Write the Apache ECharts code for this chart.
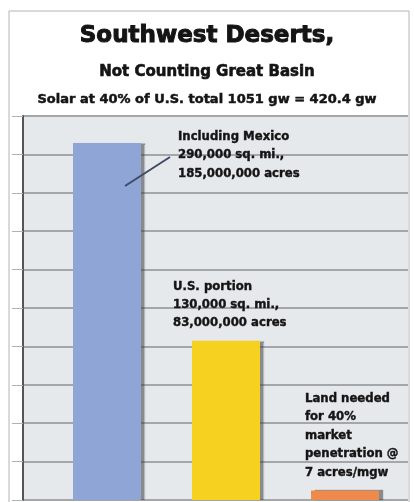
<!DOCTYPE html>
<html><head><meta charset="utf-8">
<script src="https://cdn.jsdelivr.net/npm/echarts@6/dist/echarts.min.js"></script>
<style>html,body{margin:0;padding:0;background:#fff}#c{width:414px;height:502px}</style>
</head><body><div id="c"></div>
<script>
// ---- data ----
const categories = ['Including Mexico', 'U.S. portion', 'Land needed'];
const acres = [186000000, 83000000, 5000000];
const barColors = ['#8ea5d5', '#f7d11f', '#ee8a4c'];
const yTicks = { min: 0, max: 200000000, interval: 20000000 };
const titleText = 'Southwest Deserts,';
const subText = 'Not Counting Great Basin';
const noteText = 'Solar at 40% of U.S. total 1051 gw = 420.4 gw';
const annotations = [
  'Including Mexico\n290,000 sq. mi.,\n185,000,000 acres',
  'U.S. portion\n130,000 sq. mi.,\n83,000,000 acres',
  'Land needed\nfor 40%\nmarket\npenetration @\n7 acres/mgw'
];

const chart = echarts.init(document.getElementById('c'), null, { renderer: 'canvas' });
const annFont = 'bold 13px "DejaVu Sans Condensed", "DejaVu Sans"';
const ink = '#141414';
chart.setOption({
  backgroundColor: '#ffffff',
  animation: false,
  title: [
    { text: titleText, left: 'center', top: 20, textStyle: { fontFamily: 'DejaVu Sans', fontWeight: 'bold', fontSize: 23, color: ink, textBorderColor: ink, textBorderWidth: 1 } },
    { text: subText, left: 'center', top: 60, textStyle: { fontFamily: 'DejaVu Sans', fontWeight: 'bold', fontSize: 15, color: ink, textBorderColor: ink, textBorderWidth: 0.6 } },
    { text: noteText, left: 'center', top: 88, textStyle: { fontFamily: 'DejaVu Sans', fontWeight: 'bold', fontSize: 13, color: ink, textBorderColor: ink, textBorderWidth: 0.5 } }
  ],
  grid: [
    { left: 23, right: 6, top: 116, bottom: 2, show: true, backgroundColor: '#e6e9ec', borderWidth: 0, z: 0 },
    { left: 47.5, width: 357, top: 116, bottom: 2 }
  ],
  xAxis: [
    { gridIndex: 0, type: 'value', min: 0, max: 1, show: false },
    { gridIndex: 1, type: 'category', data: categories, show: false }
  ],
  yAxis: [
    { gridIndex: 0, type: 'value', min: yTicks.min, max: yTicks.max, interval: yTicks.interval, z: 1,
      axisLabel: { show: false },
      axisLine: { show: true, lineStyle: { color: '#555', width: 2 } },
      axisTick: { show: true, length: 11, lineStyle: { color: '#b0b2b4', width: 1 } },
      splitLine: { show: true, lineStyle: { color: '#a4a7aa', width: 2 } } },
    { gridIndex: 1, type: 'value', min: yTicks.min, max: yTicks.max, interval: yTicks.interval, show: false, splitLine: { show: false } }
  ],
  series: [{
    type: 'bar', xAxisIndex: 1, yAxisIndex: 1, z: 3,
    data: acres.map((v, i) => ({ value: v, itemStyle: { color: barColors[i] } })),
    barWidth: 68,
    itemStyle: { shadowColor: 'rgba(60,60,60,0.55)', shadowOffsetX: 4, shadowOffsetY: 0, shadowBlur: 1 }
  }],
  graphic: [
    { type: 'rect', shape: { x: 9, y: 11, width: 400, height: 500 }, style: { fill: 'none', stroke: '#b4b4b4', lineWidth: 1 }, z: 100, silent: true },
    { type: 'line', shape: { x1: 125, y1: 186, x2: 170, y2: 157 }, style: { stroke: '#3e4a66', lineWidth: 2 }, z: 100 },
    { type: 'text', x: 178, y: 127, z: 100, style: { text: annotations[0], font: annFont, fill: ink, stroke: ink, lineWidth: 0.4, lineHeight: 18.5 } },
    { type: 'text', x: 173, y: 278, z: 100, style: { text: annotations[1], font: annFont, fill: ink, stroke: ink, lineWidth: 0.4, lineHeight: 18 } },
    { type: 'text', x: 305, y: 389, z: 100, style: { text: annotations[2], font: annFont, fill: ink, stroke: ink, lineWidth: 0.4, lineHeight: 18.6 } }
  ]
});
</script></body></html>
